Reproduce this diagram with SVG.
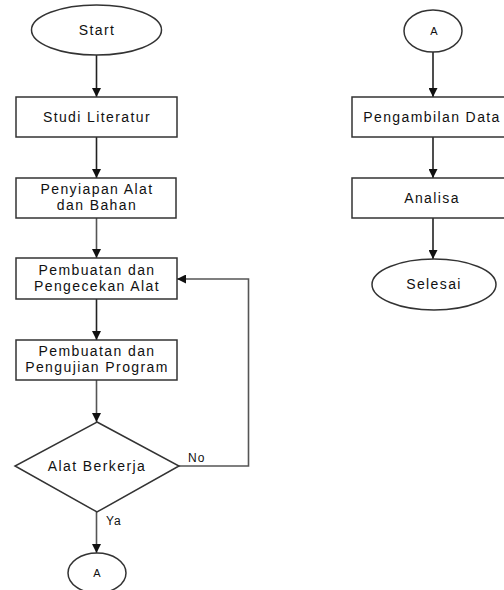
<svg xmlns="http://www.w3.org/2000/svg" width="504" height="590" viewBox="0 0 504 590">
<style>
.shape{fill:#fff;stroke:#333;stroke-width:1.5}
.t{font-family:"Liberation Sans",Arial,sans-serif;font-size:14px;letter-spacing:1.4px;fill:#111;text-anchor:middle}
.s{font-size:11px;letter-spacing:0}
.l{font-family:"Liberation Sans",Arial,sans-serif;font-size:12px;letter-spacing:1px;fill:#111}
.c{fill:none;stroke:#222;stroke-width:1.6}
.g{stroke:#555}
</style>
<defs>
<marker id="ah" viewBox="0 0 10 10" refX="10" refY="5" markerWidth="11" markerHeight="9" markerUnits="userSpaceOnUse" orient="auto">
<path d="M0,0 L10,5 L0,10 Z" fill="#111"/>
</marker>
</defs>
<rect width="504" height="590" fill="#fff"/>
<g id="connectors">
<line class="c" x1="96.5" y1="55" x2="96.5" y2="97" marker-end="url(#ah)"/>
<line class="c" x1="96.5" y1="137" x2="96.5" y2="178" marker-end="url(#ah)"/>
<line class="c g" x1="96.5" y1="218" x2="96.5" y2="258" marker-end="url(#ah)"/>
<line class="c" x1="96.5" y1="299" x2="96.5" y2="340" marker-end="url(#ah)"/>
<line class="c g" x1="96.5" y1="380" x2="96.5" y2="422" marker-end="url(#ah)"/>
<line class="c g" x1="96.5" y1="512" x2="96.5" y2="553" marker-end="url(#ah)"/>
<polyline class="c g" points="179,466 248.5,466 248.5,279 177,279" marker-end="url(#ah)"/>
<text class="l" x="188" y="462">No</text>
<text class="l" x="106" y="525">Ya</text>
<line class="c" x1="433" y1="52" x2="433" y2="97" marker-end="url(#ah)"/>
<line class="c" x1="433" y1="137" x2="433" y2="178" marker-end="url(#ah)"/>
<line class="c" x1="433" y1="218" x2="433" y2="259" marker-end="url(#ah)"/>
</g>
<g id="start">
<ellipse class="shape" cx="96.5" cy="30" rx="65" ry="25"/>
<text class="t" x="97" y="35">Start</text>
</g>
<g id="studi">
<rect class="shape" x="16" y="97" width="161" height="40"/>
<text class="t" x="97" y="122">Studi Literatur</text>
</g>
<g id="penyiapan">
<rect class="shape" x="16" y="178" width="160" height="40"/>
<text class="t" x="97" y="194">Penyiapan Alat</text>
<text class="t" x="97" y="210">dan Bahan</text>
</g>
<g id="pengecekan">
<rect class="shape" x="16" y="258" width="161" height="41"/>
<text class="t" x="97" y="275">Pembuatan dan</text>
<text class="t" x="97" y="291">Pengecekan Alat</text>
</g>
<g id="pengujian">
<rect class="shape" x="16" y="340" width="161" height="40"/>
<text class="t" x="97" y="356">Pembuatan dan</text>
<text class="t" x="97" y="372">Pengujian Program</text>
</g>
<g id="decision">
<polygon class="shape" points="97,422 179,466 97,512 15,466"/>
<text class="t" x="97" y="471">Alat Berkerja</text>
</g>
<g id="a-bottom">
<ellipse class="shape" cx="97" cy="573" rx="29" ry="20"/>
<text class="t s" x="97" y="577">A</text>
</g>
<g id="a-top">
<ellipse class="shape" cx="433" cy="31" rx="29" ry="21"/>
<text class="t s" x="434" y="35">A</text>
</g>
<g id="pengambilan">
<rect class="shape" x="352" y="97" width="162" height="40"/>
<text class="t" x="432" y="122">Pengambilan Data</text>
</g>
<g id="analisa">
<rect class="shape" x="352" y="178" width="162" height="40"/>
<text class="t" x="432" y="203">Analisa</text>
</g>
<g id="selesai">
<ellipse class="shape" cx="434" cy="284.5" rx="62" ry="25.5"/>
<text class="t" x="434" y="289">Selesai</text>
</g>
</svg>
